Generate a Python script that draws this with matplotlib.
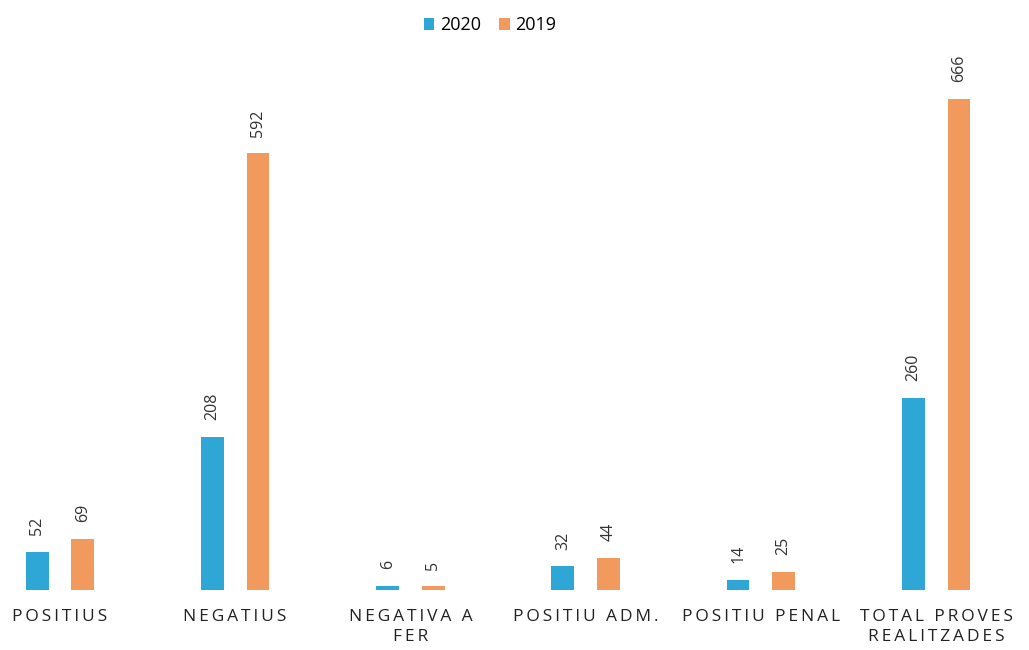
import matplotlib
matplotlib.use('Agg')
import matplotlib.pyplot as plt
import numpy as np

plt.rcParams['font.family'] = ['Open Sans', 'DejaVu Sans']

# categories and values
categories = ['POSITIUS', 'NEGATIUS', 'NEGATIVA A\nFER', 'POSITIU ADM.', 'POSITIU PENAL', 'TOTAL PROVES\nREALITZADES']
vals_2020 = [52, 208, 6, 32, 14, 260]
vals_2019 = [69, 592, 5, 44, 25, 666]
series = ['2020', '2019']
colors = ['#2ea6d6', '#f29a5e']

def spaced(s):
    # spread the letters a little, like the original
    return '\n'.join('\u2009'.join(line) for line in s.split('\n'))

fig = plt.figure(figsize=(10.29, 6.5), dpi=100)
ax = fig.add_axes([0.0, 60 / 650, 1.0, 546 / 650])

x = np.arange(len(categories))
w = 0.13
off = 0.13
b1 = ax.bar(x - off, vals_2020, w, color=colors[0], label=series[0])
b2 = ax.bar(x + off, vals_2019, w, color=colors[1], label=series[1])

for bars in (b1, b2):
    for r in bars:
        ax.annotate(str(int(r.get_height())), (r.get_x() + r.get_width() / 2, r.get_height()),
                    xytext=(0, 12), textcoords='offset points', rotation=90,
                    ha='center', va='bottom', fontsize=11.5, color='#333333')

ax.set_xlim(-0.342, 5.53)
ax.set_ylim(0, 740)
ax.set_xticks(x)
ax.set_xticklabels([spaced(c) for c in categories], fontsize=12.5, color='#222222', linespacing=1.3)
ax.tick_params(axis='x', length=0, pad=14)
ax.set_yticks([])
for s in ax.spines.values():
    s.set_visible(False)

fig.legend(handles=[b1, b2], loc='upper center', bbox_to_anchor=(0.476, 1.0), ncol=2,
           frameon=False, fontsize=13, handlelength=0.6, handleheight=0.6,
           handletextpad=0.3, columnspacing=1.0)

fig.savefig('out.png', dpi=100)
